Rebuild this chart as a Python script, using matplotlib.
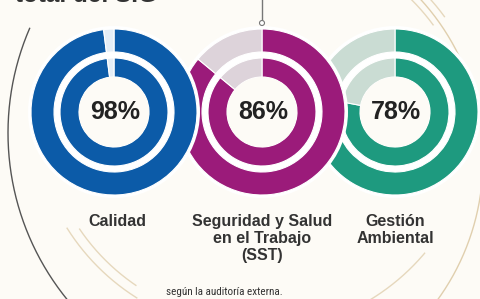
import numpy as np
import matplotlib
matplotlib.use("Agg")
import matplotlib.pyplot as plt
from matplotlib.patches import Circle
from matplotlib import font_manager

# chart data
categories = ["Calidad", "Seguridad y Salud\nen el Trabajo\n(SST)", "Gestión\nAmbiental"]
percent = [98, 86, 78]
colors = ["#0c5ba8", "#9b1b7a", "#1e9a7f"]
rest_colors = ["#e4edf6", "#ddd3da", "#cadcd3"]
title_tail = "total del SIG"
footnote = "según la auditoría externa."

W, H = 480, 299
BG = "#fdfbf6"


def pick(*names):
    avail = {f.name for f in font_manager.fontManager.ttflist}
    for n in names:
        if n in avail:
            return n
    return "DejaVu Sans"


NARROW = pick("Liberation Sans Narrow", "Roboto Condensed", "DejaVu Sans Condensed", "Liberation Sans")
SANS = pick("Liberation Sans", "Roboto")

fig = plt.figure(figsize=(W / 100, H / 100), dpi=100, facecolor=BG)
ax = fig.add_axes([0, 0, 1, 1])
ax.set_facecolor(BG)


def arc(cx, cy, r, a0, a1, color, lw):
    # cx, cy in pixel coords from the top-left corner
    t = np.radians(np.linspace(a0, a1, 200))
    ax.plot(cx + r * np.cos(t), (H - cy) + r * np.sin(t), color=color, lw=lw,
            solid_capstyle="butt", zorder=0)


# decorative arcs
arc(272, 133, 264, 156.5, 228, "#555555", 1.0)
arc(245, 160, 238, -62, 62, "#e0cfae", 1.0)
arc(255, 110, 222, 212, 238, "#e6d8bd", 1.0)
arc(255, 110, 212, 214, 236, "#e6d8bd", 1.0)
arc(255, 110, 222, -60, -40, "#e6d8bd", 1.0)
arc(262, 150, 212, 36, 50, "#e6d8bd", 1.0)
arc(262, 150, 226, 36, 50, "#e6d8bd", 1.0)

# donut layout (pixels)
cxs = [114, 262, 395]
cy = H - 112
R_out, w_out = 83, 23
R_in, w_in = 54, 19

# draw right to left so the left donut sits on top
for i in [2, 1, 0]:
    cx = cxs[i]
    vals = [percent[i], 100 - percent[i]]
    ax.add_patch(Circle((cx, cy), R_out + 3, facecolor="white", edgecolor="none"))
    for r, w in [(R_out, w_out), (R_in, w_in)]:
        ax.pie(vals, colors=[colors[i], rest_colors[i]], radius=r, center=(cx, cy),
               startangle=90, counterclock=False,
               wedgeprops=dict(width=w, edgecolor="white", linewidth=0.8))
    ax.add_patch(Circle((cx, cy), R_in - w_in, facecolor=BG, edgecolor="none"))
    ax.text(cx + 1, cy, f"{percent[i]}%", ha="center", va="center", fontsize=18,
            fontweight="bold", color="#222222", family=SANS)
    ax.text(cx + (3 if i == 0 else 0), H - 214, categories[i], ha="center", va="top",
            fontsize=11.5, fontweight="bold", color="#333333", family=SANS,
            linespacing=1.18)

# pointer line at top
ax.plot([262, 262], [H, H - 22], color="#777777", lw=1.0, zorder=5)
ax.add_patch(Circle((262, H - 23), 2.5, facecolor="white", edgecolor="#777777",
                    lw=0.8, zorder=6))

ax.text(15, H - 1.5, title_tail, ha="left", va="baseline", fontsize=17.5,
        fontweight="bold", color="#333333", family=SANS)
ax.text(224, 7, footnote, ha="center", va="center", fontsize=8,
        color="#333333", family=NARROW)

ax.set_xlim(0, W)
ax.set_ylim(0, H)
ax.set_aspect("auto")
ax.axis("off")

fig.savefig("out.png", dpi=100, facecolor=BG)
